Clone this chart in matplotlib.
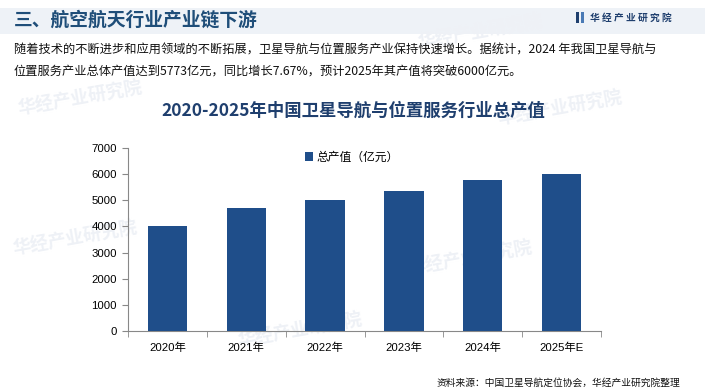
import numpy as np
import matplotlib.pyplot as plt
from matplotlib.patches import Rectangle

# data
years = ['2020年', '2021年', '2022年', '2023年', '2024年', '2025年E']
output_value = [4033, 4690, 5007, 5362, 5773, 6000]
y_ticks = [0, 1000, 2000, 3000, 4000, 5000, 6000, 7000]

plt.rcParams['font.family'] = ['Liberation Sans', 'Noto Sans CJK SC', 'DejaVu Sans']

BAR = '#1f4e8a'
NAVY = '#1f3f6e'

fig = plt.figure(figsize=(7.05, 3.92), dpi=100)
W, H = 705, 392

def fx(x):
    return x / W

def fy(y):
    return 1 - y / H

# header band
fig.patches.append(Rectangle((0, fy(34)), 1, (34 - 8) / H, transform=fig.transFigure,
                             facecolor='#eef2f7', edgecolor='none', zorder=-2))
fig.text(fx(14), fy(20), '三、航空航天行业产业链下游', fontsize=13.5, color='#1f4e79',
         va='center', ha='left', family=['Noto Sans CJK SC'], weight='bold')
fig.patches.append(Rectangle((fx(576), fy(23)), 3 / W, 11 / H, transform=fig.transFigure,
                             facecolor=NAVY, edgecolor='none'))
fig.patches.append(Rectangle((fx(580.5), fy(23)), 3 / W, 11 / H, transform=fig.transFigure,
                             facecolor='#4a7ab5', edgecolor='none'))
fig.text(fx(590), fy(17.5), '华 经 产 业 研 究 院', fontsize=7, color=NAVY,
         va='center', ha='left', family=['Noto Sans CJK SC'], weight='bold')

# intro text
fig.text(fx(14), fy(50), '随着技术的不断进步和应用领域的不断拓展，卫星导航与位置服务产业保持快速增长。据统计，2024 年我国卫星导航与',
         fontsize=8.8, color='#111111', va='center', ha='left', family=['Noto Sans CJK SC'])
fig.text(fx(14), fy(71), '位置服务产业总体产值达到5773亿元，同比增长7.67%，预计2025年其产值将突破6000亿元。',
         fontsize=8.8, color='#111111', va='center', ha='left', family=['Noto Sans CJK SC'])

# faint watermarks, kept behind the axes
for (x, y) in [(80, 98), (470, 258), (75, 238), (300, 330), (560, 108), (480, 32)]:
    fig.text(fx(x), fy(y), '华经产业研究院', fontsize=13, color='#eef1f6',
             rotation=10, ha='center', va='center', family=['Noto Sans CJK SC'],
             weight='bold', zorder=-1)

# chart title
fig.text(fx(353), fy(111), '2020-2025年中国卫星导航与位置服务行业总产值', fontsize=12.5,
         color=NAVY, ha='center', va='center', family=['Noto Sans CJK SC'], weight='bold')

ax = fig.add_axes([fx(128), fy(331), (601 - 128) / W, (331 - 148) / H])
x = np.arange(len(years))
ax.bar(x, output_value, width=0.5, color=BAR, label='总产值（亿元）', zorder=3)
ax.set_xlim(-0.5, len(years) - 0.5)
ax.set_ylim(0, 7000)
ax.set_yticks(y_ticks)
ax.set_yticklabels([str(v) for v in y_ticks], fontsize=8.2)
ax.set_xticks(x)
ax.set_xticklabels(years, fontsize=8.2)
ax.tick_params(axis='x', length=0, pad=8)
ax.set_xticks(np.arange(len(years) + 1) - 0.5, minor=True)
ax.tick_params(axis='x', which='minor', length=4, direction='out', color='#888888')
ax.tick_params(axis='y', length=4, direction='out', color='#888888', pad=4)
ax.spines['top'].set_visible(False)
ax.spines['right'].set_visible(False)
ax.spines['left'].set_color('#888888')
ax.spines['bottom'].set_color('#888888')
ax.patch.set_alpha(0)

ax.legend(loc='center', bbox_to_anchor=(fx(352), fy(157)), bbox_transform=fig.transFigure,
          frameon=False, fontsize=8.5, handlelength=0.7, handleheight=0.7, handletextpad=0.3,
          prop={'family': ['Noto Sans CJK SC'], 'size': 8.5})

# source
fig.text(fx(680), fy(383), '资料来源：中国卫星导航定位协会，华经产业研究院整理', fontsize=7,
         color='#111111', ha='right', va='center', family=['Noto Sans CJK SC'])

plt.savefig('out.png', dpi=100)
